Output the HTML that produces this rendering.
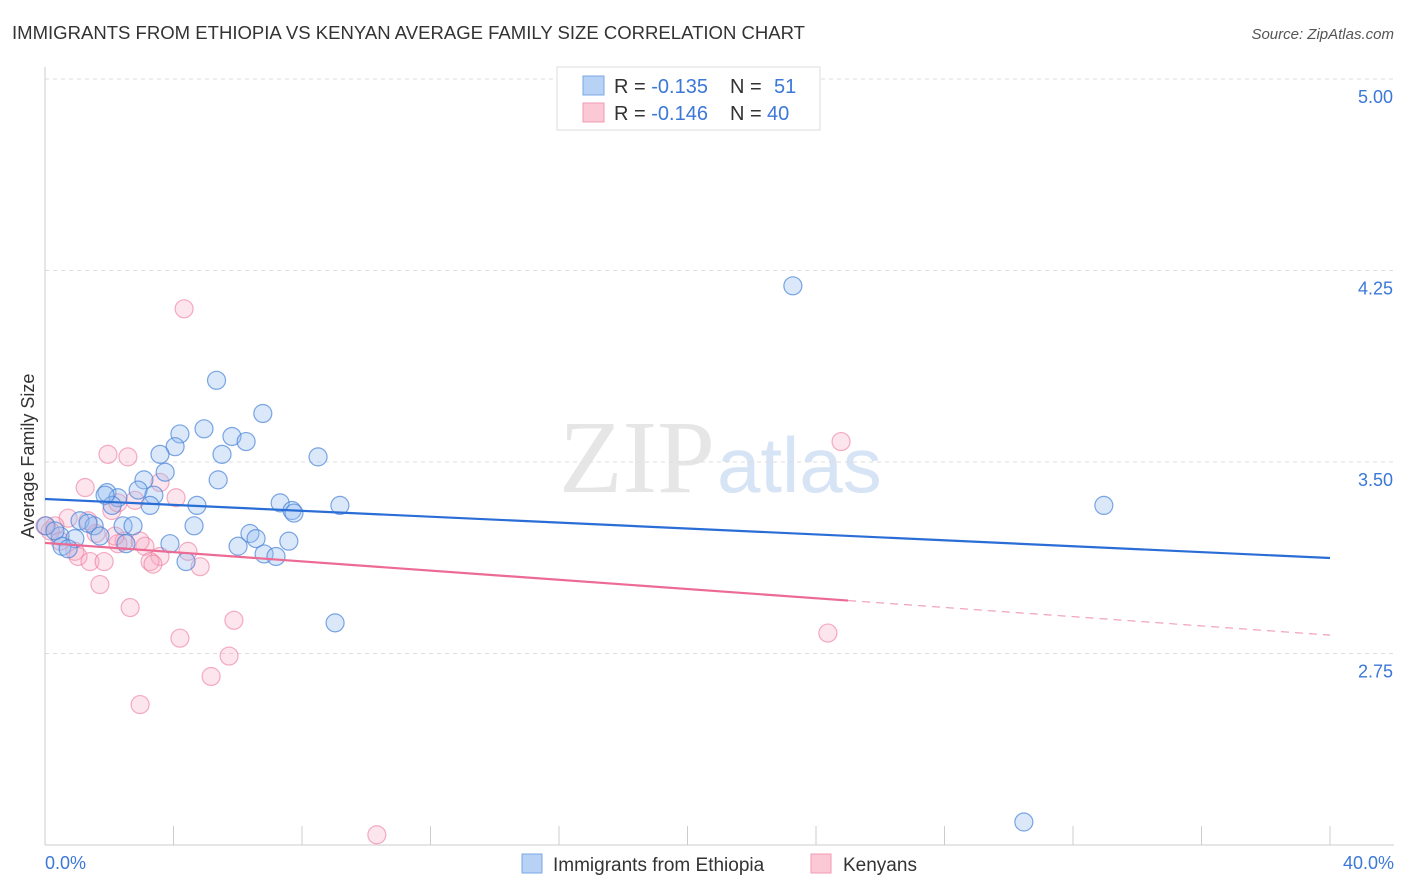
<!DOCTYPE html>
<html><head><meta charset="utf-8"><style>
body{margin:0;background:#fff;font-family:"Liberation Sans",sans-serif;}
svg{display:block}
</style></head><body>
<svg id="c" width="1406" height="892" xmlns="http://www.w3.org/2000/svg">
<text x="12" y="39" font-size="18" fill="#333" textLength="793" lengthAdjust="spacingAndGlyphs">IMMIGRANTS FROM ETHIOPIA VS KENYAN AVERAGE FAMILY SIZE CORRELATION CHART</text>
<text x="1394" y="39" font-size="15" fill="#555" font-style="italic" text-anchor="end">Source: ZipAtlas.com</text>
<text x="715" y="492" font-size="104" fill="#e6e6e6" text-anchor="end" font-family="Liberation Serif,serif">ZIP</text>
<text x="717" y="492" font-size="78" fill="#d6e4f5">atlas</text>
<g id="grid"></g>
<line x1="45" y1="67" x2="45" y2="845" stroke="#ccc"/>
<line x1="45" y1="845" x2="1394" y2="845" stroke="#ccc"/>
<text transform="translate(34,456) rotate(-90)" font-size="18" fill="#333" text-anchor="middle">Average Family Size</text>
<text x="45" y="869" font-size="18" fill="#3b78d8">0.0%</text>
<text x="1394" y="869" font-size="18" fill="#3b78d8" text-anchor="end">40.0%</text>
<g id="pts"></g>
<g id="lines"></g>
<g>
<rect x="557" y="67" width="263" height="63" fill="#fff" stroke="#ddd"/>
<rect x="583" y="76" width="21" height="19" fill="#b8d2f5" stroke="#7aa7e6"/>
<rect x="583" y="103" width="21" height="19" fill="#fbc8d6" stroke="#f09ab3"/>
<text x="614" y="93" font-size="20" fill="#333">R = <tspan fill="#3b78d8">-0.135</tspan><tspan x="730">N = </tspan><tspan x="774" fill="#3b78d8">51</tspan></text>
<text x="614" y="120" font-size="20" fill="#333">R = <tspan fill="#3b78d8">-0.146</tspan><tspan x="730">N = </tspan><tspan x="767" fill="#3b78d8">40</tspan></text>
</g>
<g>
<rect x="522" y="854" width="20" height="19" fill="#b8d2f5" stroke="#7aa7e6"/>
<text x="553" y="871" font-size="19" fill="#333">Immigrants from Ethiopia</text>
<rect x="811" y="854" width="20" height="19" fill="#fbc8d6" stroke="#f09ab3"/>
<text x="843" y="871" font-size="19" fill="#333">Kenyans</text>
</g>
</svg>
<script>
const yTicks=[5.00,4.25,3.50,2.75];
const xTickPcts=[0,4,8,12,16,20,24,28,32,36,40];
const ethX=[5.34,6.78,4.95,4.20,5.82,6.26,4.05,3.58,5.51,8.50,3.74,3.08,5.39,2.90,3.39,1.93,2.27,2.09,3.27,4.73,7.32,9.18,7.69,7.75,32.96,1.09,1.53,2.43,2.74,4.64,6.38,6.57,7.59,6.01,3.89,2.52,0.47,0.93,0.03,0.31,0.53,0.72,6.82,7.19,4.39,9.03,23.28,30.47,1.87,1.34,1.71];
const ethY=[3.82,3.69,3.63,3.61,3.60,3.58,3.56,3.53,3.53,3.52,3.46,3.43,3.43,3.39,3.37,3.38,3.36,3.33,3.33,3.33,3.34,3.33,3.31,3.30,3.33,3.27,3.25,3.25,3.25,3.25,3.22,3.20,3.19,3.17,3.18,3.18,3.21,3.20,3.25,3.23,3.17,3.16,3.14,3.13,3.11,2.87,4.19,2.09,3.37,3.26,3.21];
const kenX=[4.33,1.96,2.58,1.25,3.58,4.08,2.80,2.08,2.27,0.72,0.31,1.34,1.59,2.46,2.27,3.11,3.58,4.45,3.27,3.36,0.93,1.03,1.40,1.84,4.83,1.71,2.65,5.88,4.20,5.73,5.17,2.96,10.33,24.78,24.37,0.16,0.47,0.00,2.18,2.96];
const kenY=[4.10,3.53,3.52,3.40,3.42,3.36,3.35,3.31,3.34,3.28,3.25,3.27,3.22,3.19,3.18,3.17,3.13,3.15,3.11,3.10,3.15,3.13,3.11,3.11,3.09,3.02,2.93,2.88,2.81,2.74,2.66,2.55,2.04,3.58,2.83,3.23,3.19,3.25,3.21,3.19];
const ethFit=[3.355,3.124];
const kenFit=[3.183,2.822];
const kenSolidEnd=25;
const X0=45,X1=1330,YT=79,YB=653.5;
function sx(p){return X0+(X1-X0)*p/40;}
function sy(v){return YT+(5-v)*(YB-YT)/2.25;}
const NS="http://www.w3.org/2000/svg";
function mk(t,a,parent){const e=document.createElementNS(NS,t);for(const k in a)e.setAttribute(k,a[k]);parent.appendChild(e);return e;}
const grid=document.getElementById('grid');
yTicks.forEach(v=>{
 const l=mk('line',{x1:45,x2:1394,y1:sy(v),y2:sy(v),stroke:'#ddd','stroke-dasharray':'4,4'},grid);
 
 
 const t=mk('text',{x:1393,y:sy(v)+24,'font-size':18,fill:'#3b78d8','text-anchor':'end'},grid);
 t.textContent=v.toFixed(2);
 
 
});
xTickPcts.forEach(p=>{
 const l=mk('line',{x1:sx(p),x2:sx(p),y1:826,y2:845,stroke:'#ccc'},grid);
 
 
});
const pts=document.getElementById('pts');
kenX.forEach((x,i)=>{
 const c=mk('circle',{cx:sx(x),cy:sy(kenY[i]),r:9,fill:'rgba(248,170,195,0.3)',stroke:'rgba(236,120,155,0.6)','stroke-width':1.2},pts);
 
 
});
ethX.forEach((x,i)=>{
 const c=mk('circle',{cx:sx(x),cy:sy(ethY[i]),r:9,fill:'rgba(150,190,240,0.35)',stroke:'rgba(70,130,215,0.7)','stroke-width':1.2},pts);
 
 
});
const lines=document.getElementById('lines');
let l=mk('line',{x1:sx(0),y1:sy(ethFit[0]),x2:sx(40),y2:sy(ethFit[1]),stroke:'#2a6dd6','stroke-width':2.2},lines);


const kAt=p=>kenFit[0]+(kenFit[1]-kenFit[0])*p/40;
l=mk('line',{x1:sx(0),y1:sy(kAt(0)),x2:sx(kenSolidEnd),y2:sy(kAt(kenSolidEnd)),stroke:'#ec6a93','stroke-width':2.2},lines);


l=mk('line',{x1:sx(kenSolidEnd),y1:sy(kAt(kenSolidEnd)),x2:sx(40),y2:sy(kAt(40)),stroke:'#f0a0b8','stroke-width':1.2,'stroke-dasharray':'8,6'},lines);


</script>
</body></html>
